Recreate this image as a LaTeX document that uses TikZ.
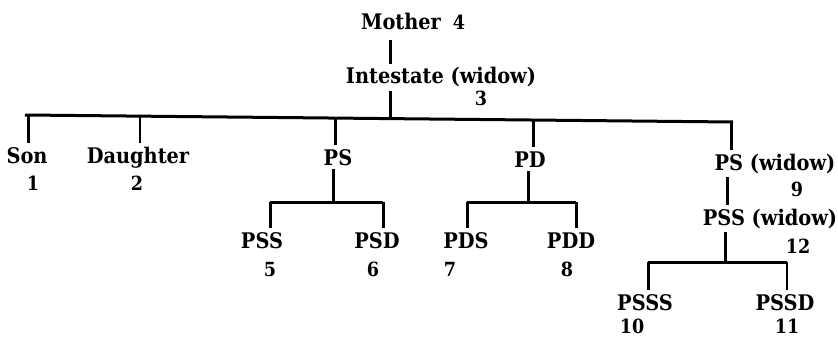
\documentclass[tikz,border=0pt]{standalone}
\usepackage{fontspec}
\setmainfont{DejaVu Serif}
\newfontfamily\lblfont{DejaVu Serif Condensed}
\begin{document}
\begin{tikzpicture}[x=1pt,y=-1pt,
  lbl/.style={anchor=base,inner sep=0pt,outer sep=4pt,font=\lblfont\bfseries\fontsize{21.5}{25}\selectfont},
  num/.style={anchor=base,inner sep=0pt,font=\lblfont\bfseries\fontsize{19.5}{24}\selectfont},
  bar/.style={line width=3pt},
  stem/.style={line width=3pt},
  fine/.style={line width=1.2pt}]
\useasboundingbox (0,0) rectangle (838,337);
% labels
\node[lbl] (mother) at (401,30) {Mother};
\node[num] (n4) at (459,30) {4};
\node[lbl] (int) at (441,84) {Intestate (widow)};
\node[num] (n3) at (481,106) {3};
\node[lbl] (son) at (27,163) {Son};
\node[num] (n1) at (33,190) {1};
\node[lbl] (dau) at (138,163) {Daughter};
\node[num] (n2) at (137,190) {2};
\node[lbl] (ps) at (338,165) {PS};
\node[lbl] (pd) at (530,167) {PD};
\node[lbl] (psw) at (775,170) {PS (widow)};
\node[num] (n9) at (797,196) {9};
\node[lbl] (pss) at (262,248) {PSS};
\node[lbl] (psd) at (377,248) {PSD};
\node[num] (n5) at (270,276) {5};
\node[num] (n6) at (373,276) {6};
\node[lbl] (pds) at (466,248) {PDS};
\node[lbl] (pdd) at (571,248) {PDD};
\node[num] (n7) at (450,276) {7};
\node[num] (n8) at (567,276) {8};
\node[lbl] (pssw) at (770,225) {PSS (widow)};
\node[num] (n12) at (798,253) {12};
\node[lbl] (psss) at (645,310) {PSSS};
\node[lbl] (pssd) at (785,310) {PSSD};
\node[num] (n10) at (632,333) {10};
\node[num] (n11) at (787,333) {11};
% bar coordinates
\coordinate (b0) at (25,115);
\coordinate (b1) at (733,122);
\coordinate (tSon) at (28,115);
\coordinate (tDau) at (140,116.2);
\coordinate (tPS) at (335,118.1);
\coordinate (tInt) at (390,118.6);
\coordinate (tPD) at (533,120);
\coordinate (tPSw) at (731,122);
\coordinate (psL) at (270,202);
\coordinate (psR) at (383,202);
\coordinate (psM) at (333,202);
\coordinate (pdL) at (467,202);
\coordinate (pdR) at (576,202);
\coordinate (pdM) at (528,202);
\coordinate (sL) at (648,262);
\coordinate (sR) at (787,262);
\coordinate (sM) at (725,262);
\coordinate (xPSw) at (727,0);
% connectors
\draw[stem,shorten <=6pt] (mother.south -| tInt) -- (int.north -| tInt);
\draw[stem] (int.south -| tInt) -- (tInt);
\draw[bar] (b0) -- (b1);
\draw[stem] (tSon) -- (son.north -| tSon);
\draw[fine] (tDau) -- (dau.north -| tDau);
\draw[stem] (tPS) -- (ps.north -| tPS);
\draw[stem] (tPD) -- (pd.north -| tPD);
\draw[stem] (tPSw) -- (psw.north -| tPSw);
% PS branch
\draw[stem] (ps.south -| psM) -- (psM);
\draw[bar] (psL) -- (psR);
\draw[stem] (psL) -- (pss.north -| psL);
\draw[stem] (psR) -- (psd.north -| psR);
% PD branch
\draw[stem] (pd.south -| pdM) -- (pdM);
\draw[bar] (pdL) -- (pdR);
\draw[stem] (pdL) -- (pds.north -| pdL);
\draw[stem] (pdR) -- (pdd.north -| pdR);
% PS (widow) branch
\draw[stem] (psw.south -| xPSw) -- (pssw.north -| xPSw);
\draw[stem] (pssw.south -| sM) -- (sM);
\draw[bar] (sL) -- (sR);
\draw[stem] (sL) -- (psss.north -| sL);
\draw[fine] (sR) -- (pssd.north -| sR);
\end{tikzpicture}
\end{document}
